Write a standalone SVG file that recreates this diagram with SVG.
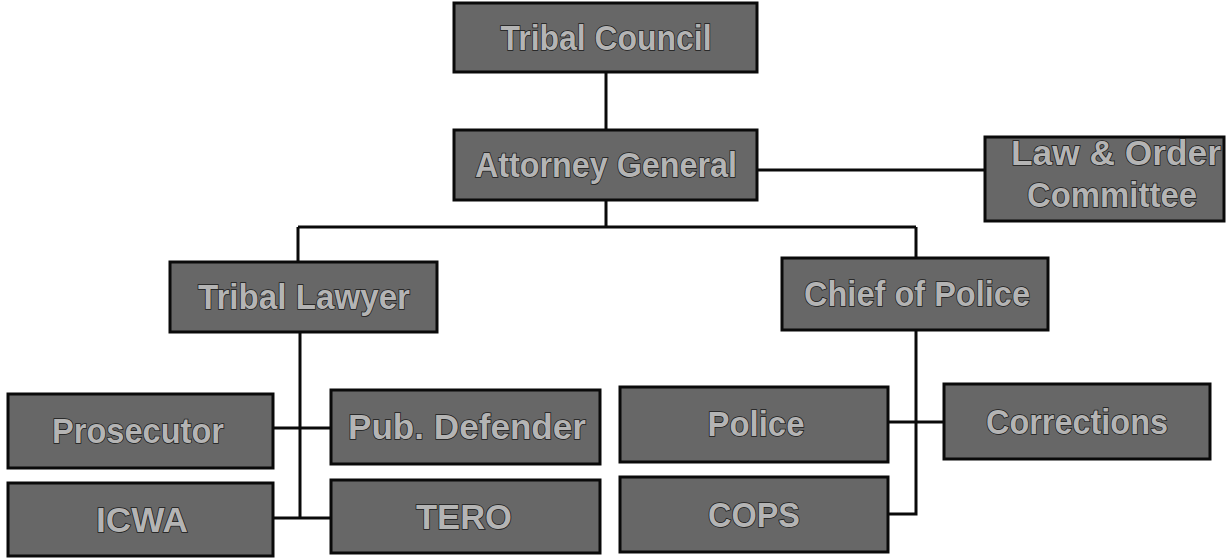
<svg xmlns="http://www.w3.org/2000/svg" width="1226" height="560" viewBox="0 0 1226 560">
<style>
.box{fill:#676767;stroke:#0a0a0a;stroke-width:3}
.lbl{font-family:"Liberation Sans",Arial,sans-serif;font-size:35px;font-weight:bold;fill:#b4b4b4;stroke:#1a1a1a;stroke-width:1.5;paint-order:stroke fill;text-anchor:middle}
.ln{fill:none;stroke:#0a0a0a;stroke-width:3}
</style>
<rect width="1226" height="560" fill="#ffffff"/>
<g id="connectors">
<path class="ln" d="M606 72 V130"/>
<path class="ln" d="M757 170 H985"/>
<path class="ln" d="M606 200 V227 M298 227 H916 M298 227 V262 M916 227 V258"/>
<path class="ln" d="M300 332 V518 M273 428 H331 M273 518 H331"/>
<path class="ln" d="M916 330 V514 H888 M888 422 H944"/>
</g>
<g id="tribal-council"><rect class="box" x="454" y="3" width="303" height="69"/><text class="lbl" x="606" y="50" textLength="211" lengthAdjust="spacingAndGlyphs">Tribal Council</text></g>
<g id="attorney-general"><rect class="box" x="454" y="130" width="303" height="70"/><text class="lbl" x="606" y="177" textLength="262" lengthAdjust="spacingAndGlyphs">Attorney General</text></g>
<g id="law-order-committee"><rect class="box" x="985" y="137" width="239" height="84"/><text class="lbl" x="1116" y="165" textLength="210" lengthAdjust="spacingAndGlyphs">Law &amp; Order</text><text class="lbl" x="1112" y="207" textLength="170" lengthAdjust="spacingAndGlyphs">Committee</text></g>
<g id="tribal-lawyer"><rect class="box" x="170" y="262" width="267" height="70"/><text class="lbl" x="304" y="309" textLength="212" lengthAdjust="spacingAndGlyphs">Tribal Lawyer</text></g>
<g id="chief-of-police"><rect class="box" x="782" y="258" width="266" height="72"/><text class="lbl" x="917" y="306" textLength="226" lengthAdjust="spacingAndGlyphs">Chief of Police</text></g>
<g id="prosecutor"><rect class="box" x="8" y="394" width="265" height="74"/><text class="lbl" x="138" y="443" textLength="172" lengthAdjust="spacingAndGlyphs">Prosecutor</text></g>
<g id="pub-defender"><rect class="box" x="331" y="390" width="269" height="74"/><text class="lbl" x="467" y="439" textLength="238" lengthAdjust="spacingAndGlyphs">Pub. Defender</text></g>
<g id="icwa"><rect class="box" x="8" y="483" width="265" height="73"/><text class="lbl" x="142" y="532" textLength="92" lengthAdjust="spacingAndGlyphs">ICWA</text></g>
<g id="tero"><rect class="box" x="331" y="480" width="269" height="73"/><text class="lbl" x="464" y="529" textLength="96" lengthAdjust="spacingAndGlyphs">TERO</text></g>
<g id="police"><rect class="box" x="620" y="387" width="268" height="75"/><text class="lbl" x="756" y="436" textLength="97" lengthAdjust="spacingAndGlyphs">Police</text></g>
<g id="corrections"><rect class="box" x="944" y="384" width="266" height="75"/><text class="lbl" x="1077" y="434" textLength="182" lengthAdjust="spacingAndGlyphs">Corrections</text></g>
<g id="cops"><rect class="box" x="620" y="477" width="268" height="75"/><text class="lbl" x="754" y="527" textLength="92" lengthAdjust="spacingAndGlyphs">COPS</text></g>
</svg>
